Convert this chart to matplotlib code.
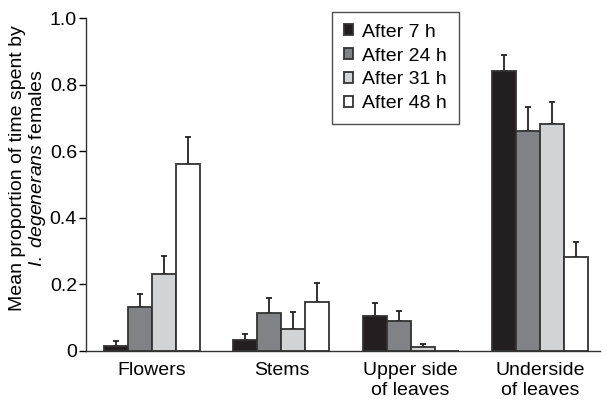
import matplotlib
matplotlib.use("Agg")
import matplotlib.pyplot as plt
import numpy as np

plt.rcParams['font.family'] = ['Liberation Sans', 'DejaVu Sans']
plt.rcParams['mathtext.fontset'] = 'custom'
plt.rcParams['mathtext.it'] = 'Liberation Sans:italic'
plt.rcParams['mathtext.rm'] = 'Liberation Sans'

categories = ["Flowers", "Stems", "Upper side\nof leaves", "Underside\nof leaves"]
series_labels = ["After 7 h", "After 24 h", "After 31 h", "After 48 h"]
after_7h = [0.015, 0.033, 0.106, 0.841]
after_24h = [0.133, 0.113, 0.089, 0.662]
after_31h = [0.231, 0.066, 0.011, 0.683]
after_48h = [0.562, 0.146, 0.0, 0.283]
err_7h = [0.014, 0.018, 0.037, 0.048]
err_24h = [0.037, 0.045, 0.031, 0.072]
err_31h = [0.054, 0.050, 0.010, 0.065]
err_48h = [0.082, 0.058, 0.0, 0.043]
yticks = [0, 0.2, 0.4, 0.6, 0.8, 1.0]
ytick_labels = ["0", "0.2", "0.4", "0.6", "0.8", "1.0"]

values = [after_7h, after_24h, after_31h, after_48h]
errors = [err_7h, err_24h, err_31h, err_48h]
colors = ["#231f20", "#808285", "#d1d3d4", "#ffffff"]

fig = plt.figure(figsize=(6.07, 4.01), dpi=100)
ax = fig.add_axes([0.1417, 0.1247, 0.846, 0.8303])

x = np.arange(len(categories))
w = 0.186
for i, (v, e, c, lab) in enumerate(zip(values, errors, colors, series_labels)):
    pos = x + (i - 1.5) * w
    ax.bar(pos, v, width=w, color=c, edgecolor="#333333", linewidth=1.3, label=lab, zorder=2)
    for p, vv, ee in zip(pos, v, e):
        if ee > 0:
            ax.errorbar(p, vv, yerr=[[0], [ee]], fmt='none', ecolor="#222222",
                        elinewidth=1.3, capsize=2.2, capthick=1.3, zorder=1)

ax.set_xlim(-0.51, 3.46)
ax.set_ylim(0, 1.0)
ax.set_yticks(yticks)
ax.set_yticklabels(ytick_labels, fontsize=14)
ax.set_xticks(x)
ax.set_xticklabels(categories, fontsize=14, linespacing=1.2)
ax.tick_params(axis='x', length=0, pad=8)
ax.tick_params(axis='y', direction='out', length=5, width=1, pad=1.5)
for s in ['top', 'right']:
    ax.spines[s].set_visible(False)
for s in ['left', 'bottom']:
    ax.spines[s].set_linewidth(1.0)
    ax.spines[s].set_color("#333333")

ax.set_ylabel("Mean proportion of time spent by\n$\\it{I.\\ degenerans}$ females", fontsize=14,
              linespacing=1.1)
ax.yaxis.set_label_coords(-0.074, 0.55)

leg = ax.legend(loc='upper left', bbox_to_anchor=(0.547, 0.970), bbox_transform=fig.transFigure,
                fontsize=14, frameon=True, fancybox=False, handlelength=0.5, handleheight=0.5,
                handletextpad=0.45, labelspacing=0.35, borderpad=0.6, borderaxespad=0)
leg.get_frame().set_edgecolor("#222222")
leg.get_frame().set_linewidth(1.0)

fig.savefig("out.png", dpi=100)
